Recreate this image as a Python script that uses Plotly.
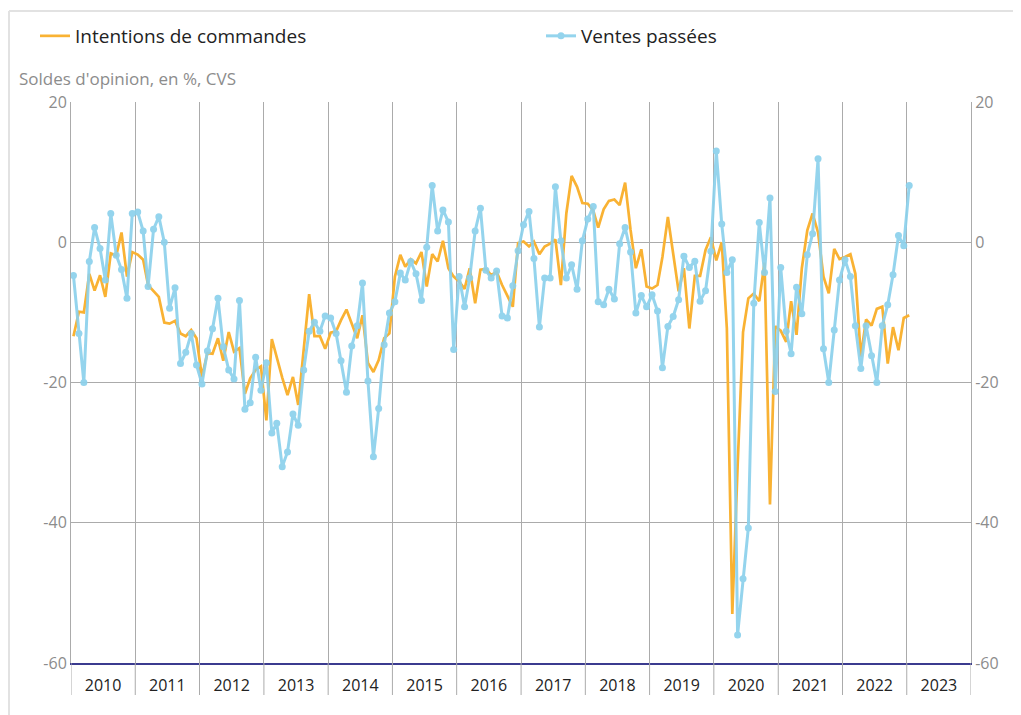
import pandas as pd
import plotly.graph_objects as go

# Monthly data, January 2010 to January 2023
start_month = "2010-01-01"
n_months = 157

intentions_commandes = [
    -13.4, -9.9, -10, -4.5, -6.9, -4.7, -7.8, -1.6, -1.9, 1.4, -4.9, -1.4,
    -1.75, -2.5, -6.1, -7, -7.8, -11.45, -11.6, -11.2, -13, -13.4, -12.5, -13.7,
    -19.2, -15.8, -15.9, -13.7, -16.9, -12.8, -15.6, -15.1, -21.6, -19.4, -18.2, -17.7,
    -25.4, -13.8, -16.5, -19.3, -21.8, -19.2, -23.2, -15.5, -7.4, -13.4, -13.4, -15.2,
    -12.9, -12.7, -11.1, -9.6, -11.5, -13.7, -10.4, -17.2, -18.5, -16.8, -13.7, -13,
    -4.9, -1.8, -3.5, -2.4, -3, -1.4, -6.3, -1.7, -2.75, 0.2, -3.7, -4.9,
    -5.6, -6.65, -3.7, -8.7, -3.9, -3.8, -4.7, -4.2, -6.1, -7.7, -9.2, -0.1,
    0.1, -0.6, 0.1, -1.7, -0.6, -0.2, 0.4, -6.1, 4.1, 9.45, 7.9, 5.6,
    5.5, 4.5, 2.1, 4.7, 5.9, 6.1, 5.3, 8.5, 1.75, -3.7, -1.0, -6.3,
    -6.6, -6.1, -2.1, 3.6, -1.6, -7.0, -3.7, -12.3, -4.8, -4.8, -1.1, 0.7,
    -2.6, 0, -12.3, -53, -32, -12.8, -8.0, -7.3, -8.4, -2.9, -37.4, -12.0,
    -12.6, -14.2, -8.4, -13.2, -3.7, 1.7, 4.1, 1.4, -4.9, -7.3, -0.95, -2.4,
    -2.1, -1.7, -4.5, -16.3, -11.0, -11.9, -9.5, -9.2, -17.3, -12.1, -15.4, -10.8,
    -10.4,
]

ventes_passees = [
    -4.75, -13, -20, -2.75, 2.1, -0.9, -5.4, 4.1, -1.85, -3.9, -8, 4.1,
    4.3, 1.6, -6.3, 1.85, 3.65, 0, -9.4, -6.5, -17.3, -15.7, -13, -17.5,
    -20.2, -15.5, -12.35, -8, -14.9, -18.2, -19.5, -8.3, -23.8, -22.9, -16.4, -21.1,
    -17.2, -27.2, -25.8, -32, -29.9, -24.5, -26.1, -18.2, -12.7, -11.4, -12.7, -10.5,
    -10.8, -13, -16.9, -21.4, -14.8, -11.9, -5.8, -19.8, -30.6, -23.7, -14.6, -10.1,
    -8.5, -4.4, -5.4, -2.75, -4.5, -8.3, -0.7, 8.1, 1.6, 4.6, 2.9, -15.3,
    -4.9, -9.2, -5.1, 1.6, 4.85, -4.0, -5.1, -4.1, -10.5, -10.8, -6.2, -1.2,
    2.5, 4.4, -2.3, -12.1, -5.1, -5.1, 7.9, 0.2, -5.1, -3.2, -6.7, 0.2,
    3.3, 5.1, -8.5, -8.9, -6.7, -8.1, -0.2, 2.1, -1.4, -10.1, -7.6, -9.2,
    -7.5, -9.8, -17.9, -12.0, -10.6, -8.2, -2.0, -3.6, -2.7, -8.4, -6.9, -1.3,
    13.0, 2.6, -4.3, -2.5, -56.0, -48.0, -40.75, -8.7, 2.8, -4.3, 6.3, -21.3,
    -3.6, -12.7, -15.9, -6.4, -10.2, -1.8, 1.2, 11.9, -15.2, -20.0, -12.5, -5.4,
    -2.5, -4.9, -11.9, -18.0, -11.9, -16.2, -20.0, -11.9, -8.9, -4.65, 0.95, -0.5,
    8.1,
]

years = list(range(2010, 2025))
y_ticks = [20, 0, -20, -40, -60]

dates = pd.date_range(start_month, periods=n_months, freq="MS") + pd.Timedelta(days=14)
year_bounds = [f"{y}-01-01" for y in years]

ORANGE = "#F9B233"
BLUE = "#8CD1EC"
GRID = "#ababab"
FONT = "Open Sans"

# the page body adds an 8px offset; work in page pixel coordinates
OFF = 8
W, H = 1021 - OFF, 715 - OFF
PL, PR, PT, PB = 71, 971, 102, 663          # plot area in page pixels
L, T = PL - OFF, PT - OFF
R = W - (PR - OFF)
B = H - (PB - OFF)
pw, ph = PR - PL, PB - PT

def px_x(p):
    return (p - PL) / pw

def px_y(p):
    return (PB - p) / ph

legend_common = dict(
    orientation="h", xanchor="left", yanchor="middle",
    font=dict(size=19, color="#222222", family=FONT), bgcolor="rgba(0,0,0,0)",
)

fig = go.Figure()
fig.add_trace(go.Scatter(
    x=dates, y=intentions_commandes, name="Intentions de commandes",
    mode="lines", line=dict(color=ORANGE, width=2.7), legend="legend",
))
fig.add_trace(go.Scatter(
    x=dates, y=ventes_passees, name="Ventes passées",
    mode="lines+markers", line=dict(color=BLUE, width=3),
    marker=dict(color=BLUE, size=7), opacity=0.92, legend="legend2",
))
# invisible trace to carry the right-hand axis
fig.add_trace(go.Scatter(
    x=dates, y=ventes_passees, yaxis="y2", mode="lines",
    line=dict(width=0, color="rgba(0,0,0,0)"), showlegend=False, hoverinfo="skip",
))

shapes = []
for yb in year_bounds:
    shapes.append(dict(type="line", xref="x", yref="paper", x0=yb, x1=yb,
                       y0=0, y1=px_y(695), line=dict(color=GRID, width=1)))
shapes.append(dict(type="line", xref="paper", yref="paper", x0=px_x(9), x1=px_x(9),
                   y0=px_y(11), y1=px_y(720), line=dict(color="#e2e2e2", width=2)))
shapes.append(dict(type="line", xref="paper", yref="paper", x0=px_x(9), x1=px_x(1030),
                   y0=px_y(11), y1=px_y(11), line=dict(color="#e2e2e2", width=2)))

fig.update_layout(
    width=W, height=H,
    margin=dict(l=L, r=R, t=T, b=B, autoexpand=False),
    paper_bgcolor="white", plot_bgcolor="white",
    font=dict(family=FONT, color="#222222"),
    showlegend=True,
    legend=dict(x=px_x(35), y=px_y(36), **legend_common),
    legend2=dict(x=px_x(541), y=px_y(36), **legend_common),
    xaxis=dict(
        type="date", range=["2010-01-01", "2024-01-01"],
        tick0="2010-01-01", dtick="M12", tickformat="%Y", ticklabelmode="period",
        showgrid=True, gridcolor=GRID, gridwidth=1,
        showline=True, linecolor="#3b3b8f", linewidth=2,
        ticks="", tickfont=dict(size=16, color="#222222"), ticklabelstandoff=7,
        zeroline=False, fixedrange=True,
    ),
    yaxis=dict(
        range=[-60, 20], tickvals=y_ticks, ticktext=[str(v) for v in y_ticks],
        showgrid=True, gridcolor=GRID, gridwidth=1, zeroline=False,
        showline=True, linecolor=GRID, linewidth=1,
        tickfont=dict(size=16, color="#8c8c8c"), ticks="",
    ),
    yaxis2=dict(
        range=[-60, 20], tickvals=y_ticks, ticktext=[str(v) for v in y_ticks],
        overlaying="y", side="right", showgrid=False, zeroline=False,
        showline=True, linecolor=GRID, linewidth=1,
        tickfont=dict(size=16, color="#8c8c8c"), ticks="",
    ),
    shapes=shapes,
    annotations=[dict(
        text="Soldes d'opinion, en %, CVS", xref="paper", yref="paper",
        x=px_x(17), y=px_y(78), xanchor="left", yanchor="middle", showarrow=False,
        font=dict(size=17, color="#8c8c8c", family=FONT),
    )],
)

fig.write_html("out.html")
